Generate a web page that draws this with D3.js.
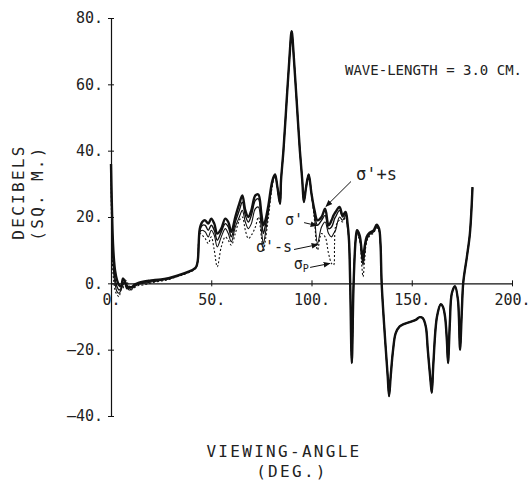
<!DOCTYPE html>
<html>
<head>
<meta charset="utf-8">
<script src="https://cdn.jsdelivr.net/npm/d3@7"></script>
<style>
  body { margin: 0; background: #fff; }
  svg text { font-family: "DejaVu Sans Mono", monospace; fill: #222; }
</style>
</head>
<body>
<div id="chart"></div>
<script>
// viewing angle samples (deg), split where the four curves part or coincide
const angleNose = [0, 0.5, 1, 1.5, 2, 3, 4, 5, 6, 7, 8, 9, 10, 12, 14,
  16, 18, 20, 22, 25, 28, 30, 33, 36, 39, 41, 42.5, 43.3,
  44.3, 45.5, 47, 48.5, 50, 51.5, 53, 55, 57, 58.5, 60, 62, 64, 65.5, 67, 68.5, 70, 72, 73.5, 75, 76, 77, 78.5, 80.5];
const anglePeak = [81.8, 83, 84.3, 84.8, 86, 87.6, 89, 90.1, 91.2, 92.6, 94.2, 95.4, 96.2, 97.3, 98.6, 100];
const angleSide = [101.5, 103, 105, 106.8, 108.5, 110, 111, 111.5, 112, 114, 115.5, 117, 118];
const angleNull = [118.7, 119.3, 120.1, 121, 122];
const angleLobe = [122.7, 124, 125, 125.7, 126.5, 127.5, 129, 131, 132.5, 133.7, 134.4];
const angleTail = [135, 136.5, 138, 138.7, 139.5, 140.7, 142, 144, 146, 149, 152, 154, 155.5, 157, 158,
  159.3, 160, 160.8, 162.6, 164.5, 165.5, 166.6, 167.5, 168.1, 169, 170, 171.6, 173, 173.5, 174.1,
  175, 175.7, 177.5, 179, 180.3];

// parts shared by all four curves (dB)
const dbPeak = [32.8, 29, 24, 31, 40, 55, 68, 76, 68, 55, 40, 31, 24.5, 29, 32.8, 27];
const dbNull = [13, 0, -24, 0, 13];
const dbTail = [0, -15, -28, -34, -28, -20, -15, -13, -12.3, -11.7, -11, -10.2, -10.5, -13, -20,
  -29, -33, -24, -10, -6.3, -7, -10, -17, -24, -12, -3, -0.9, -4.8, -10, -20,
  -8, 0.3, 8, 15, 29];

// sigma' + s
const sumNose = [36, 22, 12, 7, 4, 1, -0.5, -1, 1.5, 0.5, -1.5, -1, -1.2, -0.3, 0.2,
  0.5, 0.7, 0.9, 1.0, 1.2, 1.5, 1.8, 2.3, 2.9, 3.6, 4.2, 5.0, 7.0,
  16.5, 18.5, 19, 18, 19.5, 18, 15, 16.5, 19.5, 18.5, 15.5, 20, 24, 26.5, 22, 20, 22, 26.5, 26.8, 21, 17.5, 19, 23.5, 31];
const sumSide = [22, 19, 20, 22.5, 17.5, 19, 20.5, 21, 21.5, 23, 20.5, 21.5, 18];
const sumLobe = [16, 14.5, 10, 7.5, 11, 14, 15.3, 16, 17.7, 16.5, 12];

// sigma'
const primeNose = [36, 18, 9, 4, 1.5, -1, -2, -1.5, 0, 0.5, -0.5, -1.5, -1.3, -0.6, 0,
  0.3, 0.5, 0.7, 0.9, 1.1, 1.4, 1.7, 2.2, 2.8, 3.5, 4.1, 4.9, 6.9,
  16, 17.5, 17.5, 16, 17.5, 16, 13, 15.5, 18, 17, 14, 18.5, 22, 24.5, 20.5, 18.5, 20.5, 25, 25.5, 19.5, 15, 17.5, 22.5, 30.5];
const primeSide = [21, 17.5, 19, 20.5, 16.5, 17, 18.5, 19.5, 20, 22, 20, 21, 17.5];
const primeLobe = [15.5, 14, 9, 6.5, 10, 13.5, 15, 15.8, 17.3, 16.2, 12];

// sigma' - s
const diffNose = [36, 14, 6, 2, 0, -2.5, -3, -2, -0.5, 0, -1, -2, -1.8, -0.9, -0.3,
  0, 0.2, 0.4, 0.6, 0.9, 1.2, 1.5, 2.1, 2.7, 3.4, 4.0, 4.8, 6.8,
  15.5, 16, 15.5, 14, 16, 14.5, 11, 14, 16.5, 15, 12.5, 17, 20, 22, 18.5, 16.5, 18, 22.5, 23, 16, 12, 15, 21.5, 30];
const diffSide = [20, 12, 17, 18.5, 15, 14, 15, 15.5, 16, 20, 19, 20.5, 17];
const diffLobe = [15, 13.5, 8, 5.5, 9, 13, 14.7, 15.5, 17, 16, 12];

// sigma_p
const physNose = [36, 10, 3, 0, -2, -3.5, -4, -2, -1.5, 1, 0.5, -1, -2, -1.2, -0.6,
  -0.5, -0.2, 0.1, 0.4, 0.7, 1.0, 1.4, 2.0, 2.6, 3.3, 3.9, 4.7, 6.7,
  15, 14.5, 13.5, 12, 14, 10, 5, 11, 14, 13, 11.5, 15, 19, 20, 16, 13.5, 14.5, 17, 20, 14, 9.5, 13, 20, 29.5];
const physSide = [19, 10, 15, 14, 9, 6, 5.5, 12, 17, 19, 18.5, 20, 16.5];
const physLobe = [14.5, 13, 6, 2, 7, 12.5, 14.3, 15.2, 16.7, 15.8, 12];

const xTicks = [0, 50, 100, 150, 200];
const yTicks = [-40, -20, 0, 20, 40, 60, 80];

const angles = [...angleNose, ...anglePeak, ...angleSide, ...angleNull, ...angleLobe, ...angleTail];
const build = (nose, side, lobe) => [...nose, ...dbPeak, ...side, ...dbNull, ...lobe, ...dbTail];

const series = [
  { name: "sigmaP", values: build(physNose, physSide, physLobe), width: 1.1, dash: "2,2" },
  { name: "sigmaDiff", values: build(diffNose, diffSide, diffLobe), width: 1.1, dash: null },
  { name: "sigmaPrime", values: build(primeNose, primeSide, primeLobe), width: 1.4, dash: null },
  { name: "sigmaSum", values: build(sumNose, sumSide, sumLobe), width: 2.4, dash: null }
];

const size = { x: 532, y: 481 };
const x = d3.scaleLinear().domain([0, 200]).range([111, 512]);
const y = d3.scaleLinear().domain([-40, 80]).range([416, 18]);

const svg = d3.select("#chart")
  .append("svg")
  .attr("width", size.x)
  .attr("height", size.y)
  .attr("viewBox", [0, 0, size.x, size.y]);

svg.append("rect").attr("width", size.x).attr("height", size.y).attr("fill", "#fff");

const fmt = d => (d < 0 ? "\u2013" + Math.abs(d) : d) + ".";

// y axis
svg.append("g")
  .attr("transform", `translate(${x(0)},0)`)
  .call(d3.axisLeft(y).tickValues(yTicks).tickSize(6).tickSizeOuter(0).tickPadding(2).tickFormat(fmt))
  .attr("font-family", "DejaVu Sans Mono")
  .attr("font-size", 15)
  .call(g => g.selectAll(".tick line").attr("x1", 3).attr("x2", -3).attr("stroke", "#111"))
  .call(g => g.select(".domain").attr("stroke", "#111").attr("stroke-width", 1.2));

// x axis
svg.append("g")
  .attr("transform", `translate(0,${y(0)})`)
  .call(d3.axisBottom(x).tickValues(xTicks).tickSize(6).tickSizeOuter(0).tickPadding(5).tickFormat(fmt))
  .attr("font-family", "DejaVu Sans Mono")
  .attr("font-size", 15)
  .call(g => g.selectAll(".tick line").attr("y1", -3).attr("y2", 3).attr("stroke", "#111"))
  .call(g => g.select(".domain").attr("stroke", "#111").attr("stroke-width", 1.2));

// curves
const line = d3.line()
  .x((d, i) => x(angles[i]))
  .y(d => y(d))
  .curve(d3.curveCatmullRom.alpha(0.5));

svg.append("g")
  .selectAll("path")
  .data(series)
  .enter()
  .append("path")
  .attr("fill", "none")
  .attr("stroke", "#111")
  .attr("stroke-linejoin", "round")
  .attr("stroke-width", d => d.width)
  .attr("stroke-dasharray", d => d.dash)
  .attr("d", d => line(d.values));

// axis titles
svg.append("text")
  .attr("x", 284).attr("y", 457)
  .attr("text-anchor", "middle")
  .attr("font-size", 16)
  .attr("letter-spacing", 2.3)
  .text("VIEWING-ANGLE");

svg.append("text")
  .attr("x", 292).attr("y", 477)
  .attr("text-anchor", "middle")
  .attr("font-size", 16)
  .attr("letter-spacing", 2.3)
  .text("(DEG.)");

svg.append("text")
  .attr("transform", "translate(24,192) rotate(-90)")
  .attr("text-anchor", "middle")
  .attr("font-size", 16)
  .attr("letter-spacing", 2.3)
  .text("DECIBELS");

svg.append("text")
  .attr("transform", "translate(43,193) rotate(-90)")
  .attr("text-anchor", "middle")
  .attr("font-size", 16)
  .attr("letter-spacing", 2.3)
  .text("(SQ. M.)");

svg.append("text")
  .attr("x", 345).attr("y", 75)
  .attr("font-size", 14)
  .text("WAVE-LENGTH = 3.0 CM.");

// curve labels with arrows
svg.append("defs")
  .append("marker")
  .attr("id", "head")
  .attr("viewBox", "0 0 10 10")
  .attr("refX", 9).attr("refY", 5)
  .attr("markerWidth", 7).attr("markerHeight", 7)
  .attr("markerUnits", "userSpaceOnUse")
  .attr("orient", "auto")
  .append("path")
  .attr("d", "M0,1 L10,5 L0,9 Z")
  .attr("fill", "#111");

const arrows = [
  { from: [119.7, 30.7], to: [107.2, 23.2] },
  { from: [96.3, 18.3], to: [102.7, 17.4] },
  { from: [91.3, 10.2], to: [103.2, 11.7] },
  { from: [99.3, 4.8], to: [109.2, 6.0] }
];

svg.append("g")
  .selectAll("line")
  .data(arrows)
  .enter()
  .append("line")
  .attr("x1", d => x(d.from[0])).attr("y1", d => y(d.from[1]))
  .attr("x2", d => x(d.to[0])).attr("y2", d => y(d.to[1]))
  .attr("stroke", "#111")
  .attr("stroke-width", 1)
  .attr("marker-end", "url(#head)");

const lab = svg.append("g")
  .attr("font-family", "DejaVu Sans")
  .style("font-family", "DejaVu Sans");

lab.append("text")
  .attr("x", x(122.2)).attr("y", y(31.3))
  .attr("font-size", 17)
  .text("σ'+s");

lab.append("text")
  .attr("x", x(95.8)).attr("y", y(17.7))
  .attr("text-anchor", "end")
  .attr("font-size", 15)
  .text("σ'");

lab.append("text")
  .attr("x", x(90.3)).attr("y", y(9.3))
  .attr("text-anchor", "end")
  .attr("font-size", 15)
  .text("σ'-s");

const sp = lab.append("text")
  .attr("x", x(98.6)).attr("y", y(4.2))
  .attr("text-anchor", "end")
  .attr("font-size", 15);
sp.append("tspan").text("σ");
sp.append("tspan").attr("font-size", 10).attr("dy", 3).text("P");
</script>
</body>
</html>
